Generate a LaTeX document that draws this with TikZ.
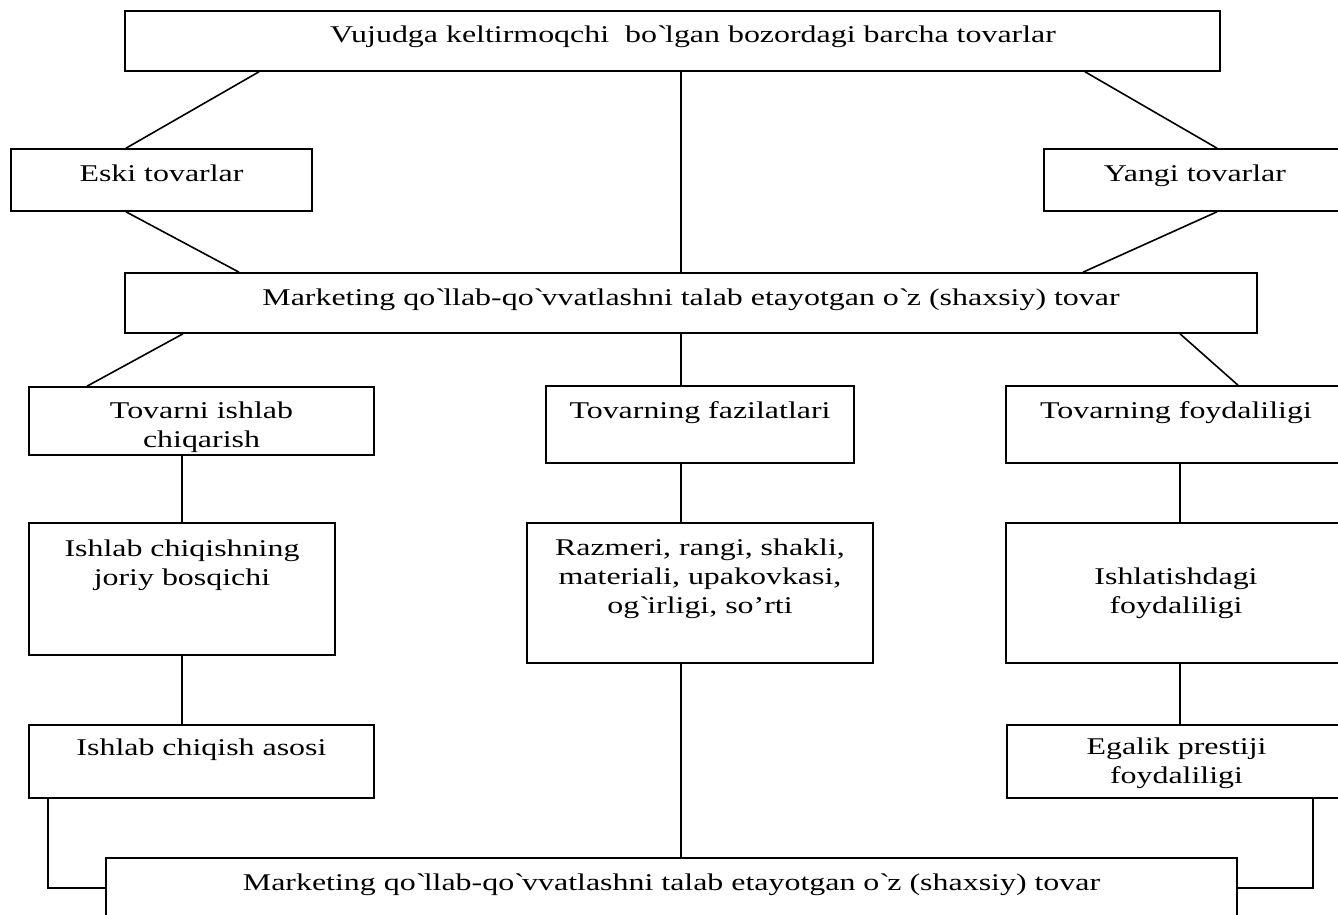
\documentclass[tikz,border=0pt]{standalone}
\usepackage{fontspec}
\setmainfont{Liberation Serif}[FakeStretch=1.33]
\usetikzlibrary{fit}
\newcommand{\bq}{\textasciigrave}

\begin{document}
\begin{tikzpicture}[x=0.5pt, y=-0.5pt, font=\fontsize{12}{14.5}\selectfont]
% Define styles
\tikzstyle{block} = [rectangle, draw=black, line width=0.8pt, inner sep=0pt]
\tikzstyle{boxtext} = [anchor=base, align=center, inner sep=0pt]
\tikzstyle{link} = [line width=0.8pt]

\useasboundingbox (0,0) rectangle (1338,915);
\clip (0,0) rectangle (1338,915);

% Draw boxes
\node [block, fit={(125,11) (1220,71)}] (top) {};
\node [block, fit={(11,149) (312,211)}] (eski) {};
\node [block, fit={(1044,149) (1346,211)}] (yangi) {};
\node [block, fit={(125,273) (1257,333)}] (mark1) {};
\node [block, fit={(29,387) (374,455)}] (ishlab) {};
\node [block, fit={(546,386) (854,463)}] (fazil) {};
\node [block, fit={(1006,386) (1346,463)}] (foyda) {};
\node [block, fit={(29,523) (335,655)}] (joriy) {};
\node [block, fit={(527,523) (873,663)}] (razm) {};
\node [block, fit={(1006,523) (1346,663)}] (ishlat) {};
\node [block, fit={(29,725) (374,798)}] (asosi) {};
\node [block, fit={(1007,725) (1346,798)}] (egalik) {};
\node [block, fit={(106,858) (1237,918)}] (mark2) {};

% Box texts (base = last line)
\node [boxtext] (top-t) at (693,43) {Vujudga keltirmoqchi\ \ bo\bq lgan bozordagi barcha tovarlar};
\node [boxtext] (eski-t) at (eski.north |- 0,181) {Eski tovarlar};
\node [boxtext] (yangi-t) at (yangi.north |- 0,181) {Yangi tovarlar};
\node [boxtext] (mark1-t) at (mark1.north |- 0,305) {Marketing qo\bq llab-qo\bq vvatlashni talab etayotgan o\bq z (shaxsiy) tovar};
\node [boxtext] (ishlab-t) at (ishlab.north |- 0,447) {Tovarni ishlab\\ chiqarish};
\node [boxtext] (fazil-t) at (fazil.north |- 0,418) {Tovarning fazilatlari};
\node [boxtext] (foyda-t) at (foyda.north |- 0,418) {Tovarning foydaliligi};
\node [boxtext] (joriy-t) at (joriy.north |- 0,585) {Ishlab chiqishning\\ joriy bosqichi};
\node [boxtext] (razm-t) at (razm.north |- 0,613) {Razmeri, rangi, shakli,\\ materiali, upakovkasi,\\ og\bq irligi, so'rti};
\node [boxtext] (ishlat-t) at (ishlat.north |- 0,613) {Ishlatishdagi\\ foydaliligi};
\node [boxtext] (asosi-t) at (asosi.north |- 0,755) {Ishlab chiqish asosi};
\node [boxtext] (egalik-t) at (egalik.north |- 0,783) {Egalik prestiji\\ foydaliligi};
\node [boxtext] (mark2-t) at (mark2.north |- 0,890) {Marketing qo\bq llab-qo\bq vvatlashni talab etayotgan o\bq z (shaxsiy) tovar};

% Draw lines
\draw [link] (top.south -| 259,0) -- (eski.north -| 126,0);
\draw [link] (top.south -| 1085,0) -- (yangi.north -| 1217,0);
\draw [link] (top.south -| 681,0) -- (mark1.north -| 681,0);
\draw [link] (eski.south -| 126,0) -- (mark1.north -| 239,0);
\draw [link] (yangi.south -| 1217,0) -- (mark1.north -| 1083,0);
\draw [link] (mark1.south -| 183,0) -- (ishlab.north -| 87,0);
\draw [link] (mark1.south -| 681,0) -- (fazil.north -| 681,0);
\draw [link] (mark1.south -| 1180,0) -- (foyda.north -| 1238,0);
\draw [link] (ishlab.south -| 182,0) -- (joriy.north -| 182,0);
\draw [link] (fazil.south -| 681,0) -- (razm.north -| 681,0);
\draw [link] (foyda.south -| 1180,0) -- (ishlat.north -| 1180,0);
\draw [link] (joriy.south -| 182,0) -- (asosi.north -| 182,0);
\draw [link] (ishlat.south -| 1180,0) -- (egalik.north -| 1180,0);
\draw [link] (razm.south -| 681,0) -- (mark2.north -| 681,0);
\draw [link] (asosi.south -| 48,0) |- (mark2.west);
\draw [link] (egalik.south -| 1313,0) |- (mark2.east);
\end{tikzpicture}
\end{document}
